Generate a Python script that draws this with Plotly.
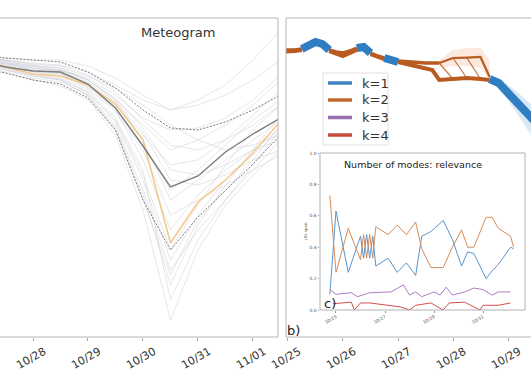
import plotly.graph_objects as go
import pandas as pd

FONT = "DejaVu Sans"
W, H = 531, 375

# ---------------- Panel (a): meteogram (pressure, hPa) ----------------
met_times = ["2018-10-27 00:00", "2018-10-27 12:00", "2018-10-28 00:00", "2018-10-28 12:00",
             "2018-10-29 00:00", "2018-10-29 12:00", "2018-10-30 00:00", "2018-10-30 12:00",
             "2018-10-31 00:00", "2018-10-31 12:00", "2018-11-01 00:00", "2018-11-01 12:00"]
met_members = [
    [1010, 1009, 1008, 1007, 1004.5, 999.5, 989.5, 974.5, 979.5, 984.5, 989.5, 994.5],
    [1008.5, 1007, 1005, 1004, 1000.75, 993.25, 977, 957, 967, 974.5, 982, 989.5],
    [1010.75, 1010, 1009.5, 1009.5, 1008, 1005, 1000.75, 997, 998.25, 1000.75, 1004.5, 1009.5],
    [1009.5, 1008, 1006.5, 1005.5, 1002, 995, 982, 949.5, 964.5, 974.5, 983.25, 992],
    [1009, 1008.5, 1007.5, 1006.5, 1003.5, 998.25, 990.75, 983.25, 984.5, 989.5, 995.75, 1002],
    [1010.25, 1009.5, 1008.5, 1008, 1005.75, 1001.5, 994.5, 988.25, 987, 989.5, 993.25, 998.25],
    [1008, 1006.5, 1004.5, 1003, 999.5, 990.75, 972, 944.5, 962, 973.25, 980.75, 987],
    [1009.75, 1008.75, 1007, 1006, 1003, 997, 984.5, 967, 975.75, 982, 987, 992.5],
    [1009.25, 1008.25, 1007, 1007, 1005, 1000.75, 995, 992, 992.5, 995, 999.5, 1005.75],
    [1008.75, 1007.5, 1005.75, 1004.75, 1001.5, 994, 979.5, 959.5, 970.75, 979.5, 985.75, 992],
    [1010.5, 1009.5, 1008.25, 1007.5, 1004.5, 1000, 992.5, 982, 980.75, 983.25, 987, 989.5],
    [1009.5, 1008.5, 1007, 1006.25, 1002.5, 996.5, 987, 970.75, 974.5, 978.25, 982, 985.75],
    [1010, 1009.25, 1008, 1007.5, 1005.5, 1002.5, 998.25, 993.25, 989.5, 987, 988.25, 990.75],
    [1008.25, 1007, 1005.5, 1004.5, 1000.75, 992.5, 975.75, 953.25, 968.25, 978.25, 987, 995.75],
    [1009, 1008, 1006.5, 1006, 1003, 997.5, 988.25, 977, 982, 988.25, 994.5, 999.5],
    [1010.25, 1009.5, 1008.75, 1008.25, 1006.5, 1003.25, 999.5, 997, 999.5, 1003.25, 1009.5, 1017],
    [1009.25, 1007.75, 1006, 1005, 1001.25, 994.5, 980.75, 962, 973.25, 983.25, 992, 998.25],
    [1009.75, 1009, 1007.5, 1006.75, 1004, 999, 991.5, 979.5, 978.25, 980.75, 984.5, 987],
    [1008.5, 1007.25, 1005.5, 1004.5, 1000.5, 992, 974.5, 955.75, 969.5, 977, 984.5, 993.25],
    [1009.5, 1008.75, 1007.75, 1007, 1004.5, 999.5, 993.25, 987, 989.5, 993.25, 998.25, 1004.5],
]
met_mean = [1009.25, 1007.75, 1006.75, 1006.5, 1003.5, 997.5, 988, 977.75, 980.5, 986.5, 991, 995]
met_control = [1009.5, 1007.75, 1006, 1005.5, 1003.25, 998.5, 989.5, 963.75, 974, 979.5, 986.25, 994.25]
met_upper = [1010.75, 1010, 1009.5, 1009, 1006.5, 1002.5, 997, 992.5, 992, 994, 997, 1000.75]
met_lower = [1007.5, 1006.25, 1004.5, 1003.5, 1000, 992, 974.5, 962, 970.25, 977, 983.5, 990.75]
met_tickvals = ["2018-10-28", "2018-10-29", "2018-10-30", "2018-10-31", "2018-11-01"]
met_ticktext = ["10/28", "10/29", "10/30", "10/31", "11/01"]

# ---------------- Panel (b): modes (hours after 10/25 00:00, hPa) ----------------
b_base = "2018-10-25 00:00"
k1_hours = [[6, 9, 12, 15, 18], [30, 33, 36], [42, 45, 48], [88, 92, 96, 100, 104, 108, 112]]
k1_values = [[1012.25, 1013.25, 1014, 1013.5, 1012], [1012.5, 1012.75, 1011.25],
             [1010, 1009.5, 1009], [1004.75, 1003.75, 1001.25, 999, 996.5, 994, 991.5]]
k2a_hours = [[-6, 0, 3, 6], [18, 21, 24, 27, 30], [36, 39, 42], [48, 54, 60, 66]]
k2a_values = [[1012, 1012, 1012, 1012.25], [1012, 1011.5, 1011.25, 1011.75, 1012.5],
              [1011.25, 1010.5, 1010], [1009.25, 1009, 1008.75, 1008.75]]
k2b_hours = [[-6, 0, 3, 6], [18, 21, 24, 27, 30], [36, 39, 42], [48, 54, 60, 63, 66, 72, 78, 84, 88]]
k2b_values = [[1011.5, 1011.5, 1011.75, 1012], [1011.75, 1011, 1010.5, 1011.25, 1012],
              [1011, 1010.25, 1009.75], [1009, 1008.25, 1007.5, 1007, 1004.5, 1004.75, 1005, 1004.75, 1004.5]]
k2_upper_hours = [66, 72, 78, 84, 88]
k2_upper_values = [1008.75, 1010, 1010.1, 1010.25, 1005.25]
k2_switch_hours = [[66, 72], [72, 78], [78, 84]]
k2_switch_values = [[1008.75, 1004.75], [1010, 1005], [1010.1, 1004.75]]
k2_spread_hours = [66, 72, 78, 84, 88]
k2_spread_hi = [1009.5, 1012, 1012.5, 1012.5, 1009.5]
k2_spread_lo = [1007.5, 1008, 1008, 1007.5, 1004.5]
k1_spread_hours = [88, 92, 96, 100, 104, 108, 112]
k1_spread_hi = [1005.5, 1004.75, 1003.25, 1001.5, 999.5, 997.5, 995.5]
k1_spread_lo = [1004, 1002.5, 999.5, 996, 992.5, 989, 985.5]
b_tickvals = ["2018-10-25", "2018-10-26", "2018-10-27", "2018-10-28", "2018-10-29"]
b_ticktext = ["10/25", "10/26", "10/27", "10/28", "10/29"]

# ---------------- Inset (c): relevance of number of modes ----------------
rel_hours = [-6, 0, 12, 18, 24, 27, 30, 33, 36, 39, 51, 60, 69, 78, 84, 93, 105, 114, 123, 129,
             135, 147, 153, 159, 171, 174]
rel_k1 = [0.10, 0.63, 0.24, 0.36, 0.47, 0.33, 0.48, 0.33, 0.47, 0.28, 0.33, 0.24, 0.30, 0.22, 0.47,
          0.50, 0.57, 0.45, 0.28, 0.37, 0.36, 0.20, 0.25, 0.29, 0.40, 0.39]
rel_k2 = [0.73, 0.24, 0.52, 0.42, 0.32, 0.48, 0.33, 0.48, 0.33, 0.53, 0.48, 0.54, 0.48, 0.56, 0.39,
          0.27, 0.27, 0.40, 0.51, 0.40, 0.40, 0.59, 0.59, 0.52, 0.47, 0.40]
rel_k3_hours = [-6, 0, 15, 21, 33, 54, 66, 72, 78, 84, 96, 102, 108, 114, 126, 135, 144, 153, 159, 171]
rel_k3 = [0.13, 0.10, 0.11, 0.085, 0.11, 0.115, 0.16, 0.095, 0.115, 0.085, 0.115, 0.095, 0.145,
          0.095, 0.115, 0.14, 0.13, 0.095, 0.115, 0.115]
rel_k4_hours = [-3, 15, 18, 24, 33, 54, 63, 72, 78, 93, 105, 111, 126, 135, 141, 144, 159, 171]
rel_k4 = [0.04, 0.05, 0.0, 0.045, 0.045, 0.03, 0.02, 0.0, 0.03, 0.045, 0.0, 0.045, 0.05, 0.02, 0.0,
          0.03, 0.03, 0.045]
c_tickvals = ["2018-10-25", "2018-10-27", "2018-10-29", "2018-10-31"]
c_ticktext = ["10/25", "10/27", "10/29", "10/31"]
c_yticks = [0.0, 0.2, 0.4, 0.6, 0.8, 1.0]

legend_names = ["k=1", "k=2", "k=3", "k=4"]
legend_colors = ["#4282bd", "#c0682d", "#9a6fb0", "#c84a3c"]

C_BLUE = "#2f7ec1"
C_BROWN = "#b95a20"


def hrs(hlist):
    base = pd.Timestamp(b_base)
    return [base + pd.Timedelta(hours=h) for h in hlist]


fig = go.Figure()

# ---- (a) meteogram traces
for m in met_members:
    fig.add_trace(go.Scatter(x=met_times, y=m, mode="lines", xaxis="x", yaxis="y",
                             line=dict(color="rgba(200,200,210,0.45)", width=1),
                             showlegend=False, hoverinfo="skip"))
fig.add_trace(go.Scatter(x=met_times, y=met_upper, mode="lines", xaxis="x", yaxis="y",
                         line=dict(color="#7a7a7a", width=1, dash="2px,1.5px"), showlegend=False))
fig.add_trace(go.Scatter(x=met_times, y=met_lower, mode="lines", xaxis="x", yaxis="y",
                         line=dict(color="#7a7a7a", width=1, dash="2px,1.5px"), showlegend=False))
fig.add_trace(go.Scatter(x=met_times, y=met_control, mode="lines", xaxis="x", yaxis="y",
                         line=dict(color="#f3c98c", width=1.6), showlegend=False))
fig.add_trace(go.Scatter(x=met_times, y=met_mean, mode="lines", xaxis="x", yaxis="y",
                         line=dict(color="#7c7c7c", width=1.4), showlegend=False))

# ---- (b) mode traces
fig.add_trace(go.Scatter(x=hrs(k2_spread_hours), y=k2_spread_hi, mode="lines", xaxis="x2", yaxis="y2",
                         line=dict(width=0), showlegend=False, hoverinfo="skip"))
fig.add_trace(go.Scatter(x=hrs(k2_spread_hours), y=k2_spread_lo, mode="lines", xaxis="x2", yaxis="y2",
                         line=dict(width=0), fill="tonexty", fillcolor="rgba(235,150,110,0.22)",
                         showlegend=False, hoverinfo="skip"))
fig.add_trace(go.Scatter(x=hrs(k1_spread_hours), y=k1_spread_hi, mode="lines", xaxis="x2", yaxis="y2",
                         line=dict(width=0), showlegend=False, hoverinfo="skip"))
fig.add_trace(go.Scatter(x=hrs(k1_spread_hours), y=k1_spread_lo, mode="lines", xaxis="x2", yaxis="y2",
                         line=dict(width=0), fill="tonexty", fillcolor="rgba(120,170,225,0.28)",
                         showlegend=False, hoverinfo="skip"))
for hh, vv in zip(k2_switch_hours, k2_switch_values):
    fig.add_trace(go.Scatter(x=hrs(hh), y=vv, mode="lines", xaxis="x2", yaxis="y2",
                             line=dict(color=C_BROWN, width=1.2), opacity=0.8, showlegend=False))
fig.add_trace(go.Scatter(x=hrs(k2_upper_hours), y=k2_upper_values, mode="lines", xaxis="x2", yaxis="y2",
                         line=dict(color=C_BROWN, width=2.2), showlegend=False))
for hh, vv in zip(k2a_hours, k2a_values):
    fig.add_trace(go.Scatter(x=hrs(hh), y=vv, mode="lines", xaxis="x2", yaxis="y2",
                             line=dict(color=C_BROWN, width=3.5), showlegend=False))
for hh, vv in zip(k2b_hours, k2b_values):
    fig.add_trace(go.Scatter(x=hrs(hh), y=vv, mode="lines", xaxis="x2", yaxis="y2",
                             line=dict(color=C_BROWN, width=4), showlegend=False))
for hh, vv in zip(k1_hours, k1_values):
    fig.add_trace(go.Scatter(x=hrs(hh), y=vv, mode="lines", xaxis="x2", yaxis="y2",
                             line=dict(color=C_BLUE, width=8), showlegend=False))

# ---- (c) inset traces
fig.add_trace(go.Scatter(x=hrs(rel_hours), y=rel_k1, mode="lines", xaxis="x3", yaxis="y3",
                         line=dict(color="#5b94c9", width=1), showlegend=False))
fig.add_trace(go.Scatter(x=hrs(rel_hours), y=rel_k2, mode="lines", xaxis="x3", yaxis="y3",
                         line=dict(color="#d88a55", width=1), showlegend=False))
fig.add_trace(go.Scatter(x=hrs(rel_k3_hours), y=rel_k3, mode="lines", xaxis="x3", yaxis="y3",
                         line=dict(color="#b07cc4", width=1), showlegend=False))
fig.add_trace(go.Scatter(x=hrs(rel_k4_hours), y=rel_k4, mode="lines", xaxis="x3", yaxis="y3",
                         line=dict(color="#d2504a", width=1), showlegend=False))

YDOM = [38 / H, 357 / H]
YRANGE = [940.25, 1020]
tickfont = dict(family=FONT, size=11, color="#333333")
small = dict(family=FONT, size=4.5, color="#555555")

fig.update_layout(
    template="none",
    width=W, height=H,
    margin=dict(l=0, r=0, t=0, b=0),
    paper_bgcolor="white", plot_bgcolor="rgba(0,0,0,0)",
    font=dict(family=FONT, color="#333333"),
    showlegend=False,
    xaxis=dict(domain=[0, 278 / W], range=["2018-10-27 09:36", "2018-11-01 10:55"],
               tickvals=met_tickvals, ticktext=met_ticktext, tickangle=-30, tickfont=tickfont,
               ticks="outside", ticklen=3, tickcolor="#aaaaaa", showgrid=False, zeroline=False,
               showline=False, automargin=False, anchor="y", ticklabelshift=11),
    yaxis=dict(domain=YDOM, range=YRANGE, showticklabels=False, ticks="", showgrid=False,
               zeroline=False, showline=False, automargin=False, anchor="x"),
    xaxis2=dict(domain=[286 / W, 1], range=["2018-10-24 23:08", "2018-10-29 10:02"],
                tickvals=b_tickvals, ticktext=b_ticktext, tickangle=-30, tickfont=tickfont,
                ticks="outside", ticklen=3, tickcolor="#aaaaaa", showgrid=False, zeroline=False,
                showline=False, automargin=False, anchor="y2", ticklabelshift=11),
    yaxis2=dict(domain=YDOM, range=YRANGE, showticklabels=False, ticks="", showgrid=False,
                zeroline=False, showline=False, automargin=False, anchor="x2"),
    xaxis3=dict(domain=[320 / W, 525 / W], range=["2018-10-24 08:20", "2018-11-01 17:08"],
                tickvals=c_tickvals, ticktext=c_ticktext, tickangle=-30, tickfont=small,
                ticks="outside", ticklen=1.5, tickcolor="#999999", showgrid=False, zeroline=False,
                showline=False, automargin=False, anchor="y3"),
    yaxis3=dict(domain=[65 / H, 222 / H], range=[0, 1.0], tickvals=c_yticks,
                ticktext=["0.0", "0.2", "0.4", "0.6", "0.8", "1.0"], tickfont=small,
                ticks="outside", ticklen=1.5, tickcolor="#999999", showgrid=False, zeroline=False,
                showline=False, automargin=False, anchor="x3",
                title=dict(text="Life span", font=dict(family=FONT, size=4, color="#555555"),
                           standoff=2)),
)

frame = dict(color="#b5b5b5", width=1)
shapes = [
    # panel (a) frame: top, right, bottom
    dict(type="line", xref="paper", yref="paper", x0=0, x1=278 / W, y0=YDOM[1], y1=YDOM[1], line=frame),
    dict(type="line", xref="paper", yref="paper", x0=278 / W, x1=278 / W, y0=YDOM[0], y1=YDOM[1], line=frame),
    dict(type="line", xref="paper", yref="paper", x0=0, x1=278 / W, y0=YDOM[0], y1=YDOM[0], line=frame),
    # panel (b) frame: left, top, bottom
    dict(type="line", xref="paper", yref="paper", x0=286 / W, x1=286 / W, y0=YDOM[0], y1=YDOM[1], line=frame),
    dict(type="line", xref="paper", yref="paper", x0=286 / W, x1=1, y0=YDOM[1], y1=YDOM[1], line=frame),
    dict(type="line", xref="paper", yref="paper", x0=286 / W, x1=1, y0=YDOM[0], y1=YDOM[0], line=frame),
    # inset frame
    dict(type="rect", xref="paper", yref="paper", x0=320 / W, x1=525 / W, y0=65 / H, y1=222 / H,
         line=dict(color="#a0a0a0", width=0.8), fillcolor="rgba(0,0,0,0)", layer="above"),
    # legend box
    dict(type="rect", xref="paper", yref="paper", x0=323 / W, x1=388 / W, y0=1 - 145 / H, y1=1 - 73 / H,
         line=dict(color="#e0e0e0", width=1), fillcolor="rgba(255,255,255,0.9)", layer="above"),
]
legend_y = [83, 100, 117.5, 135]
for nm, col, ly in zip(legend_names, legend_colors, legend_y):
    shapes.append(dict(type="line", xref="paper", yref="paper", x0=328 / W, x1=352 / W,
                       y0=1 - ly / H, y1=1 - ly / H, line=dict(color=col, width=3.5), layer="above"))
    fig.add_annotation(text=nm, x=360 / W, y=1 - ly / H, xref="paper", yref="paper",
                       xanchor="left", yanchor="middle", showarrow=False,
                       font=dict(family=FONT, size=13, color="#333333"))
fig.update_layout(shapes=shapes)


def label(text, px, py, size, color="#222222"):
    fig.add_annotation(text=text, x=px / W, y=1 - py / H, xref="paper", yref="paper",
                       xanchor="center", yanchor="middle", showarrow=False,
                       font=dict(family=FONT, size=size, color=color))


label("Meteogram", 178, 33, 13, "#333333")
label("Number of modes: relevance", 413, 164, 9.5)
label("c)", 330, 303, 13)
label("b)", 293, 330, 13)

fig.write_html("out.html", post_script="document.body.style.margin='0';",
               config={"displayModeBar": False})
